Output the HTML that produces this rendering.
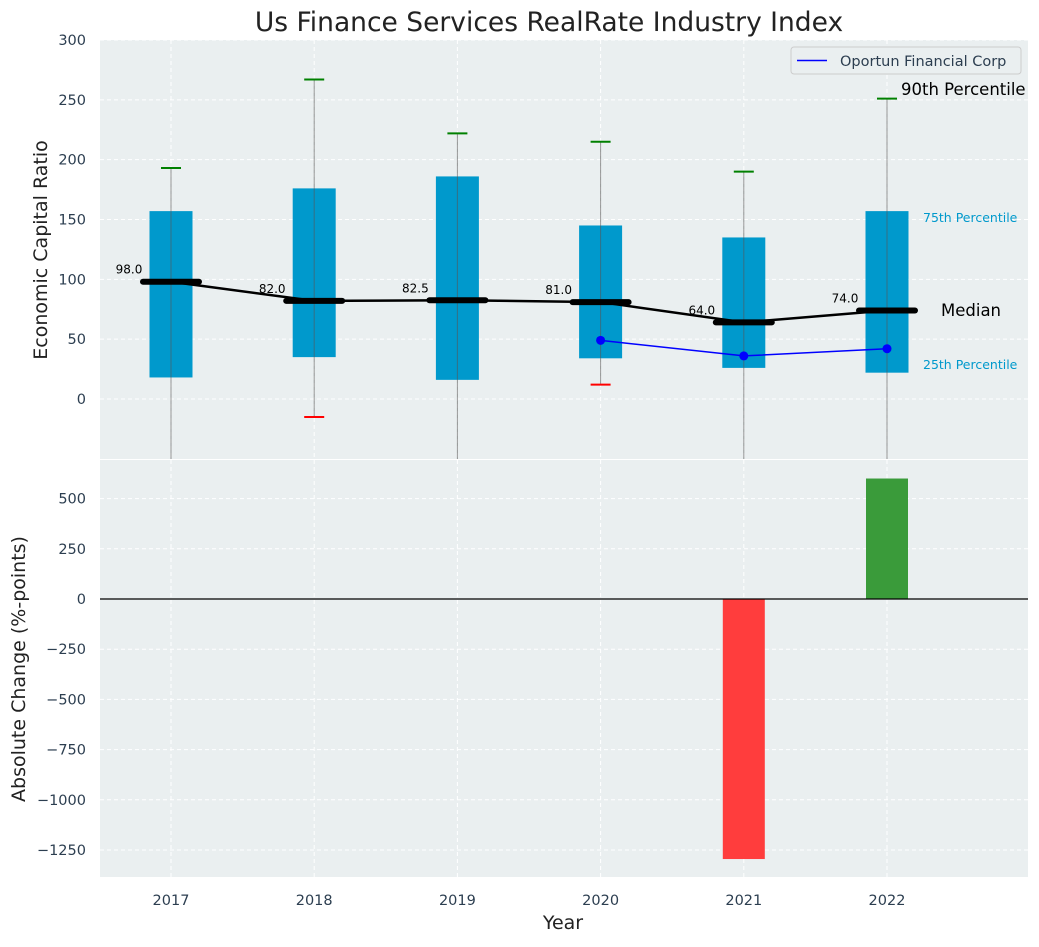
<!DOCTYPE html>
<html><head><meta charset="utf-8"><style>
body{margin:0;background:#fff;font-family:"Liberation Sans","DejaVu Sans",sans-serif;}
svg text{font-family:"DejaVu Sans","Liberation Sans",sans-serif;}
</style></head><body>
<svg id="c" width="1039" height="942" xmlns="http://www.w3.org/2000/svg"></svg>
<script>
const years=[2017,2018,2019,2020,2021,2022];
const q1=[18,35,16,34,26,22];
const q3=[157,176,186,145,135,157];
const hi=[193,267,222,215,190,251];
const lo=[-80,-15,-80,12,-80,-80];
const showLo=[false,true,false,true,false,false];
const medians=[98,82,82.5,81,64,74];
const oportunYears=[2020,2021,2022];
const oportun=[49,36,42];
const changeYears=[2021,2022];
const changes=[-1295,600];
const topTicks=[0,50,100,150,200,250,300];
const botTicks=[-1250,-1000,-750,-500,-250,0,250,500];

const NS="http://www.w3.org/2000/svg";
const svg=document.getElementById('c');
function mk(t,a,p){const e=document.createElementNS(NS,t);for(const k in a)e.setAttribute(k,a[k]);(p||svg).appendChild(e);return e;}
const fmt=v=>String(v).replace('-','\u2212');
const L=100,R=1028,T1=40,B1=459,T2=460,B2=877;
const x=v=>171+(v-2017)*143.2;
const y1=v=>399-v*(359/300);
const y2=v=>599-v*(251/1250);

let e=mk('rect',{x:L,y:T1,width:R-L,height:B1-T1,fill:'#eaeff0'});

e=mk('rect',{x:L,y:T2,width:R-L,height:B2-T2,fill:'#eaeff0'});

years.forEach(v=>{mk('line',{x1:x(v),x2:x(v),y1:T1,y2:B1,stroke:'#fff','stroke-dasharray':'4,3'});mk('line',{x1:x(v),x2:x(v),y1:T2,y2:B2,stroke:'#fff','stroke-dasharray':'4,3'});});
topTicks.forEach(v=>{mk('line',{x1:L,x2:R,y1:y1(v),y2:y1(v),stroke:'#fff','stroke-dasharray':'4,3'});
 const t=mk('text',{x:86,y:y1(v)+5,'text-anchor':'end','font-size':14.5,fill:'#2c3e50'});t.textContent=fmt(v);
 });
botTicks.forEach(v=>{mk('line',{x1:L,x2:R,y1:y2(v),y2:y2(v),stroke:'#fff','stroke-dasharray':'4,3'});
 const t=mk('text',{x:86,y:y2(v)+5,'text-anchor':'end','font-size':14.5,fill:'#2c3e50'});t.textContent=fmt(v);
 });
years.forEach(v=>{const t=mk('text',{x:x(v),y:905,'text-anchor':'middle','font-size':14.5,fill:'#2c3e50'});t.textContent=v;
 });

const cp=mk('clipPath',{id:'cp'});
mk('rect',{x:L,y:T1,width:R-L,height:B1-T1},cp);
const g=mk('g',{'clip-path':'url(#cp)'});
years.forEach((v,i)=>{
 const b=mk('rect',{x:x(v)-21.5,y:y1(q3[i]),width:43,height:y1(q1[i])-y1(q3[i]),fill:'#0099cc'},g);
 
 mk('line',{x1:x(v),x2:x(v),y1:y1(hi[i]),y2:y1(lo[i]),stroke:'#555','stroke-opacity':0.6,'stroke-width':1},g);
 const c=mk('line',{x1:x(v)-10,x2:x(v)+10,y1:y1(hi[i]),y2:y1(hi[i]),stroke:'green','stroke-width':2},g);
 
 if(showLo[i]){const d=mk('line',{x1:x(v)-10,x2:x(v)+10,y1:y1(lo[i]),y2:y1(lo[i]),stroke:'red','stroke-width':2},g);
  }
});
const ml=mk('polyline',{points:years.map((v,i)=>x(v)+','+y1(medians[i])).join(' '),fill:'none',stroke:'#000','stroke-width':2.5});

years.forEach((v,i)=>{
 const m=mk('line',{x1:x(v)-28,x2:x(v)+28,y1:y1(medians[i]),y2:y1(medians[i]),stroke:'#000','stroke-width':6,'stroke-linecap':'round'});
 
 const t=mk('text',{x:x(v)-42,y:y1(medians[i])-8,'text-anchor':'middle','font-size':12,fill:'#000'});t.textContent=medians[i].toFixed(1);
 
});
const ol=mk('polyline',{points:oportunYears.map((v,i)=>x(v)+','+y1(oportun[i])).join(' '),fill:'none',stroke:'#0000ff','stroke-width':1.5});

oportunYears.forEach((v,i)=>{const p=mk('circle',{cx:x(v),cy:y1(oportun[i]),r:4.5,fill:'#0000ff'});
 });
function txt(s,a,n){const t=mk('text',a);t.textContent=s;return t;}
txt('90th Percentile',{x:901,y:95,'font-size':16.5,fill:'#000'},'label-90th');
txt('75th Percentile',{x:923,y:222,'font-size':12.5,fill:'#0099cc'},'label-75th');
txt('25th Percentile',{x:923,y:369,'font-size':12.5,fill:'#0099cc'},'label-25th');
txt('Median',{x:941,y:316,'font-size':16.5,fill:'#000'},'label-median');
const lg=mk('g',{});
mk('rect',{x:791,y:47,width:230,height:27,rx:3,fill:'#eaeff0',stroke:'#ccc'},lg);
mk('line',{x1:797,x2:827,y1:60.5,y2:60.5,stroke:'#0000ff','stroke-width':1.5},lg);
txt('Oportun Financial Corp',{x:840,y:66,'font-size':14.5,fill:'#2c3e50'},'legend-entry');
changeYears.forEach((v,i)=>{const c=changes[i];
 const b=mk('rect',{x:x(v)-21,y:Math.min(y2(0),y2(c)),width:42,height:Math.abs(y2(c)-y2(0)),fill:c<0?'#ff3d3d':'#3a9b3a'});
 });
mk('line',{x1:L,x2:R,y1:y2(0),y2:y2(0),stroke:'#000','stroke-width':1.2});
txt('Us Finance Services RealRate Industry Index',{x:549,y:31,'text-anchor':'middle','font-size':26.5,fill:'#222'},'chart-title');
txt('Year',{x:563,y:929,'text-anchor':'middle','font-size':19,fill:'#222'},'x-axis-title');
txt('Economic Capital Ratio',{x:47,y:250,'text-anchor':'middle','font-size':19,fill:'#222',transform:'rotate(-90 47 250)'},'y-axis-title');
txt('Absolute Change (%-points)',{x:25,y:669,'text-anchor':'middle','font-size':19,fill:'#222',transform:'rotate(-90 25 669)'},'y2-axis-title');
</script>
</body></html>
